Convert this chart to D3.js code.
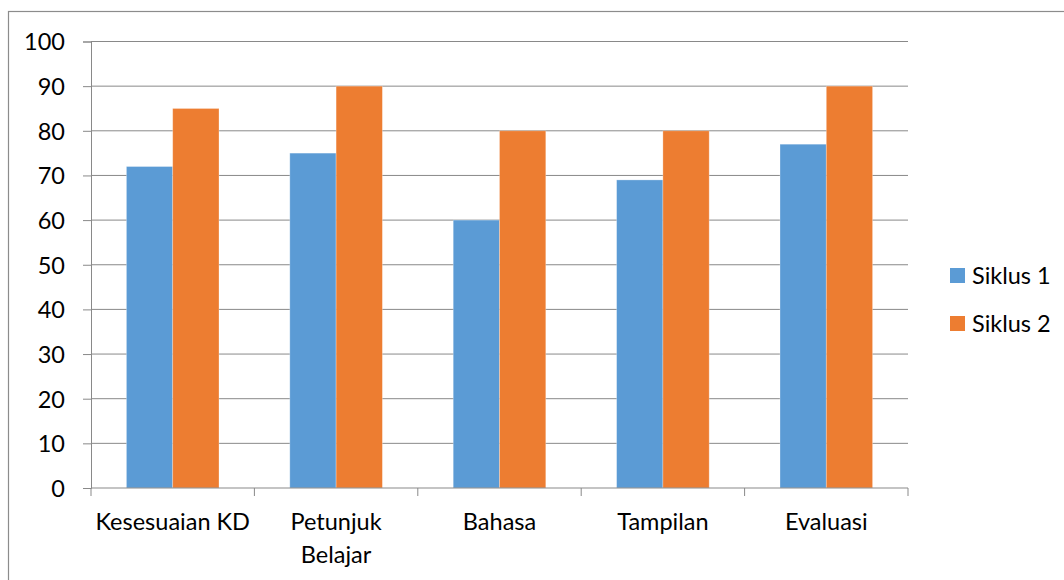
<!DOCTYPE html>
<html>
<head>
<meta charset="utf-8">
<script src="https://cdn.jsdelivr.net/npm/d3@7"></script>
<style>
  body { margin: 0; background: #fff; }
  text { font-family: Lato, "Open Sans", sans-serif; fill: #000; }
</style>
</head>
<body>
<svg id="chart" width="1064" height="580"></svg>
<script>
// chart data
const categories = ["Kesesuaian KD", "Petunjuk Belajar", "Bahasa", "Tampilan", "Evaluasi"];
const seriesNames = ["Siklus 1", "Siklus 2"];
const siklus1 = [72, 75, 60, 69, 77];
const siklus2 = [85, 90, 80, 80, 90];
const yTicks = [0, 10, 20, 30, 40, 50, 60, 70, 80, 90, 100];
const colors = ["#5B9BD5", "#ED7D31"];

const svg = d3.select("#chart");
const plot = { left: 91, right: 908, top: 41.5, bottom: 488 };
const fontSize = "23.5px";

// outer frame (runs off the right and bottom of the picture)
svg.append("rect")
    .attr("x", 8.5).attr("y", 11.5)
    .attr("width", 1100).attr("height", 600)
    .attr("fill", "none")
    .attr("stroke", "#8c8c8c")
    .attr("stroke-width", 1.2);

const y = d3.scaleLinear().domain([0, 100]).range([plot.bottom, plot.top]);
const x0 = d3.scaleBand().domain(categories).range([plot.left, plot.right]).padding(0);
const x1 = d3.scaleBand().domain(seriesNames).range([0, x0.bandwidth()]).paddingOuter(0.765).paddingInner(0);

// gridlines
svg.append("g")
    .selectAll("line")
    .data(yTicks.filter(d => d > 0))
    .join("line")
    .attr("x1", plot.left).attr("x2", plot.right)
    .attr("y1", d => y(d)).attr("y2", d => y(d))
    .attr("stroke", "#898989")
    .attr("stroke-width", 1);

// bars
const rows = categories.map((c, i) => ({ cat: c, values: [siklus1[i], siklus2[i]] }));
const groups = svg.append("g")
    .selectAll("g")
    .data(rows)
    .join("g")
    .attr("transform", d => `translate(${x0(d.cat)},0)`);

groups.selectAll("rect")
    .data(d => d.values.map((v, j) => ({ name: seriesNames[j], v: v, j: j })))
    .join("rect")
    .attr("x", d => x1(d.name))
    .attr("y", d => y(d.v))
    .attr("width", x1.bandwidth())
    .attr("height", d => y(0) - y(d.v))
    .attr("fill", d => colors[d.j])
    .attr("stroke", "#fff")
    .attr("stroke-opacity", 0.35)
    .attr("stroke-width", 0.8);

// y axis
const yAxis = d3.axisLeft(y).tickValues(yTicks).tickSize(8).tickPadding(18);
const gy = svg.append("g")
    .attr("transform", `translate(${plot.left},0)`)
    .call(yAxis);
gy.select(".domain").attr("stroke", "#898989");
gy.selectAll(".tick line").attr("stroke", "#898989");
gy.selectAll(".tick text")
    .style("font-size", fontSize)
    .attr("dy", "0.36em");

// x axis line with ticks between categories
svg.append("line")
    .attr("x1", plot.left).attr("x2", plot.right)
    .attr("y1", plot.bottom).attr("y2", plot.bottom)
    .attr("stroke", "#898989");
const bounds = categories.map(c => x0(c)).concat([plot.right]);
svg.append("g")
    .selectAll("line")
    .data(bounds)
    .join("line")
    .attr("x1", d => d).attr("x2", d => d)
    .attr("y1", plot.bottom).attr("y2", plot.bottom + 8)
    .attr("stroke", "#898989");

// category labels (wrapped like the original)
const labelLines = {
    "Kesesuaian KD": ["Kesesuaian KD"],
    "Petunjuk Belajar": ["Petunjuk", "Belajar"],
    "Bahasa": ["Bahasa"],
    "Tampilan": ["Tampilan"],
    "Evaluasi": ["Evaluasi"]
};
svg.append("g")
    .selectAll("text")
    .data(categories)
    .join("text")
    .attr("x", d => x0(d) + x0.bandwidth() / 2)
    .attr("y", 530)
    .attr("text-anchor", "middle")
    .style("font-size", fontSize)
    .each(function(d) {
        d3.select(this).selectAll("tspan")
            .data(labelLines[d])
            .join("tspan")
            .attr("x", x0(d) + x0.bandwidth() / 2)
            .attr("dy", (l, i) => i === 0 ? 0 : 33)
            .text(l => l);
    });

// legend
const legend = svg.append("g").attr("transform", "translate(950,268)");
const items = legend.selectAll("g")
    .data(seriesNames)
    .join("g")
    .attr("transform", (d, i) => `translate(0,${i * 48})`);
items.append("rect")
    .attr("width", 15).attr("height", 15)
    .attr("fill", (d, i) => colors[i]);
items.append("text")
    .attr("x", 22).attr("y", 7.5)
    .attr("dy", "0.36em")
    .style("font-size", fontSize)
    .text(d => d);
</script>
</body>
</html>
